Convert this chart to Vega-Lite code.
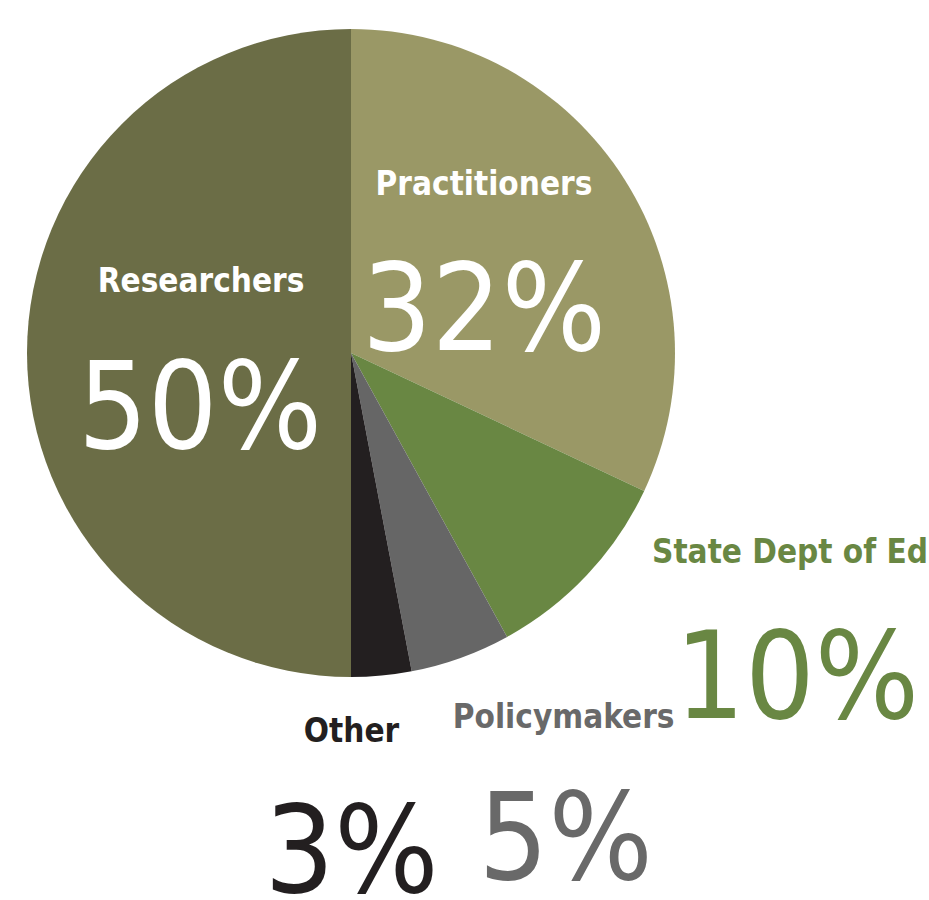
{
  "$schema": "https://vega.github.io/schema/vega-lite/v6.json",
  "width": 702,
  "height": 706,
  "autosize": {"type": "none"},
  "padding": {"left": 0, "top": 0, "right": 227, "bottom": 194},
  "background": "white",
  "view": {"stroke": null},
  "config": {"text": {"font": "DejaVu Sans Condensed, Liberation Sans Narrow, Roboto Condensed, sans-serif"}},
  "data": {
    "values": [
      {"idx": 1, "group": "Practitioners", "share": 0.32},
      {"idx": 2, "group": "State Dept of Ed", "share": 0.10},
      {"idx": 3, "group": "Policymakers", "share": 0.05},
      {"idx": 4, "group": "Other", "share": 0.03},
      {"idx": 5, "group": "Researchers", "share": 0.50}
    ]
  },
  "encoding": {
    "theta": {"field": "share", "type": "quantitative", "stack": true},
    "order": {"field": "idx", "type": "quantitative"},
    "detail": {"field": "group", "type": "nominal"}
  },
  "layer": [
    {
      "mark": {"type": "arc", "outerRadius": 324},
      "encoding": {
        "color": {
          "field": "group", "type": "nominal", "legend": null,
          "scale": {
            "domain": ["Practitioners", "State Dept of Ed", "Policymakers", "Other", "Researchers"],
            "range": ["#9a9866", "#698743", "#666666", "#231f20", "#6b6d46"]
          }
        }
      }
    },
    {
      "mark": {"type": "text", "radius": 150, "dx": 0, "dy": -61, "fontWeight": "bold", "fontSize": 33, "align": "center", "baseline": "alphabetic", "color": "white"},
      "encoding": {"text": {"condition": {"test": "datum.group === 'Researchers'", "field": "group"}, "value": ""}}
    },
    {
      "mark": {"type": "text", "radius": 150, "dx": -1, "dy": 95, "fontSize": 122, "align": "center", "baseline": "alphabetic", "color": "white"},
      "encoding": {"text": {"condition": {"test": "datum.group === 'Researchers'", "field": "share", "format": ".0%"}, "value": ""}}
    },
    {
      "mark": {"type": "text", "radius": 180, "dx": -19, "dy": -62, "fontWeight": "bold", "fontSize": 33, "align": "center", "baseline": "alphabetic", "color": "white"},
      "encoding": {"text": {"condition": {"test": "datum.group === 'Practitioners'", "field": "group"}, "value": ""}}
    },
    {
      "mark": {"type": "text", "radius": 180, "dx": -19, "dy": 93, "fontSize": 122, "align": "center", "baseline": "alphabetic", "color": "white"},
      "encoding": {"text": {"condition": {"test": "datum.group === 'Practitioners'", "field": "share", "format": ".0%"}, "value": ""}}
    },
    {
      "mark": {"type": "text", "radius": 450, "dx": 111, "dy": -98, "fontWeight": "bold", "fontSize": 33, "align": "center", "baseline": "alphabetic", "color": "#698743"},
      "encoding": {"text": {"condition": {"test": "datum.group === 'State Dept of Ed'", "field": "group"}, "value": ""}}
    },
    {
      "mark": {"type": "text", "radius": 450, "dx": 118, "dy": 57, "fontSize": 122, "align": "center", "baseline": "alphabetic", "color": "#698743"},
      "encoding": {"text": {"condition": {"test": "datum.group === 'State Dept of Ed'", "field": "share", "format": ".0%"}, "value": ""}}
    },
    {
      "mark": {"type": "text", "radius": 430, "dx": 67, "dy": -30, "fontWeight": "bold", "fontSize": 33, "align": "center", "baseline": "alphabetic", "color": "#696969"},
      "encoding": {"text": {"condition": {"test": "datum.group === 'Policymakers'", "field": "group"}, "value": ""}}
    },
    {
      "mark": {"type": "text", "radius": 430, "dx": 69, "dy": 121, "fontSize": 122, "align": "center", "baseline": "alphabetic", "color": "#696969"},
      "encoding": {"text": {"condition": {"test": "datum.group === 'Policymakers'", "field": "share", "format": ".0%"}, "value": ""}}
    },
    {
      "mark": {"type": "text", "radius": 420, "dx": -39, "dy": -29, "fontWeight": "bold", "fontSize": 33, "align": "center", "baseline": "alphabetic", "color": "#231f20"},
      "encoding": {"text": {"condition": {"test": "datum.group === 'Other'", "field": "group"}, "value": ""}}
    },
    {
      "mark": {"type": "text", "radius": 420, "dx": -39, "dy": 121, "fontSize": 122, "align": "center", "baseline": "alphabetic", "color": "#231f20"},
      "encoding": {"text": {"condition": {"test": "datum.group === 'Other'", "field": "share", "format": ".0%"}, "value": ""}}
    }
  ]
}
